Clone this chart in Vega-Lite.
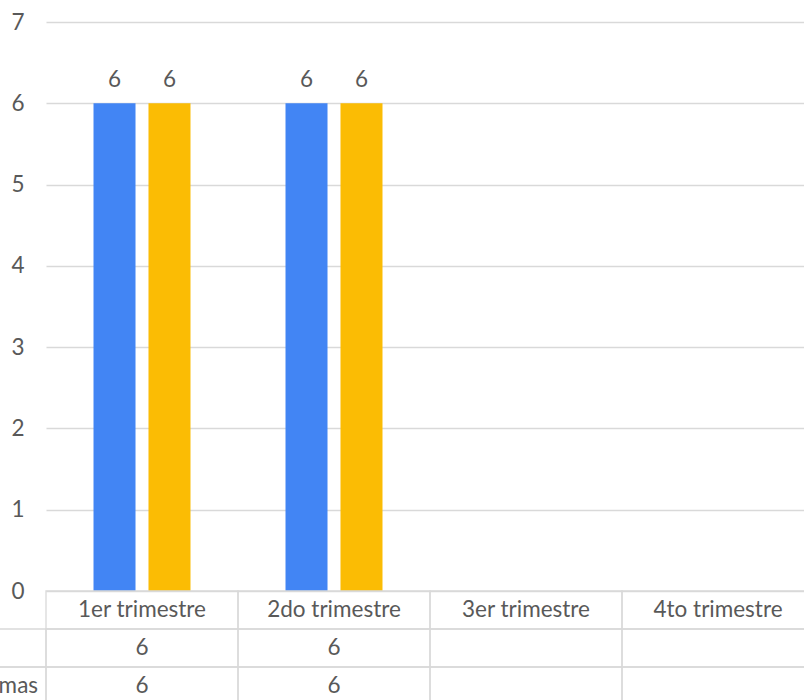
{
  "$schema": "https://vega.github.io/schema/vega-lite/v6.json",
  "autosize": {"type": "none"},
  "width": 758,
  "height": 678,
  "padding": {"left": 46, "top": 22, "right": 0, "bottom": 0},
  "background": "white",
  "config": {"view": {"stroke": null}, "text": {"font": "Lato", "fontSize": 22.5, "color": "#595959"}},
  "datasets": {
    "valores": [
      {"trimestre": "1er trimestre", "serie": "Total", "valor": 6},
      {"trimestre": "1er trimestre", "serie": "Programas", "valor": 6},
      {"trimestre": "2do trimestre", "serie": "Total", "valor": 6},
      {"trimestre": "2do trimestre", "serie": "Programas", "valor": 6}
    ],
    "celdas": [
      {"col": "1er trimestre", "fila": "encabezado"},
      {"col": "2do trimestre", "fila": "encabezado"},
      {"col": "3er trimestre", "fila": "encabezado"},
      {"col": "4to trimestre", "fila": "encabezado"},
      {"col": "serie", "fila": "Total"},
      {"col": "1er trimestre", "fila": "Total"},
      {"col": "2do trimestre", "fila": "Total"},
      {"col": "3er trimestre", "fila": "Total"},
      {"col": "4to trimestre", "fila": "Total"},
      {"col": "serie", "fila": "Programas"},
      {"col": "1er trimestre", "fila": "Programas"},
      {"col": "2do trimestre", "fila": "Programas"},
      {"col": "3er trimestre", "fila": "Programas"},
      {"col": "4to trimestre", "fila": "Programas"}
    ]
  },
  "layer": [
    {
      "data": {"name": "valores"},
      "encoding": {
        "x": {"field": "trimestre", "type": "nominal", "axis": null,
          "scale": {"domain": ["1er trimestre", "2do trimestre", "3er trimestre", "4to trimestre"], "range": [0, 768], "paddingInner": 0, "paddingOuter": 0}},
        "xOffset": {"field": "serie", "type": "nominal",
          "scale": {"domain": ["Total", "Programas"], "paddingInner": 0.236, "paddingOuter": 0.864}},
        "y": {"field": "valor", "type": "quantitative",
          "scale": {"domain": [0, 7], "range": [569, 0], "nice": false, "zero": true},
          "axis": {"values": [0, 1, 2, 3, 4, 5, 6, 7], "title": null, "grid": true, "gridColor": "#d9d9d9", "gridWidth": 1.3,
            "domain": false, "ticks": false, "tickSize": 0, "labelPadding": 22, "labelFont": "Lato", "labelFontSize": 22.5, "labelColor": "#595959"}}
      },
      "layer": [
        {
          "mark": {"type": "bar"},
          "encoding": {
            "color": {"field": "serie", "type": "nominal", "legend": null,
              "scale": {"domain": ["Total", "Programas"], "range": ["#4285F4", "#FBBC04"]}}
          }
        },
        {
          "mark": {"type": "text", "baseline": "alphabetic", "dy": -16},
          "encoding": {"text": {"field": "valor", "type": "quantitative"}}
        }
      ]
    },
    {
      "encoding": {
        "x": {"field": "col", "type": "nominal", "axis": null,
          "scale": {"domain": ["serie", "1er trimestre", "2do trimestre", "3er trimestre", "4to trimestre"], "range": [-192, 768], "paddingInner": 0, "paddingOuter": 0}},
        "y": {"field": "fila", "type": "nominal", "axis": null,
          "scale": {"domain": ["encabezado", "Total", "Programas"], "range": [569, 683], "paddingInner": 0, "paddingOuter": 0}}
      },
      "layer": [
        {
          "data": {"name": "celdas"},
          "mark": {"type": "rect", "fill": "transparent", "stroke": "#d9d9d9", "strokeWidth": 1.3}
        },
        {
          "data": {"name": "celdas"},
          "transform": [{"filter": "datum.fila === 'encabezado'"}],
          "mark": {"type": "text", "baseline": "middle"},
          "encoding": {"text": {"field": "col", "type": "nominal"}}
        },
        {
          "data": {"name": "celdas"},
          "transform": [{"filter": "datum.col === 'serie'"}],
          "mark": {"type": "text", "baseline": "middle", "align": "left", "dx": 80},
          "encoding": {
            "x": {"field": "col", "type": "nominal", "bandPosition": 0, "axis": null,
              "scale": {"domain": ["serie", "1er trimestre", "2do trimestre", "3er trimestre", "4to trimestre"], "range": [-192, 768], "paddingInner": 0, "paddingOuter": 0}},
            "text": {"field": "fila", "type": "nominal"}
          }
        },
        {
          "data": {"name": "valores"},
          "mark": {"type": "text", "baseline": "middle"},
          "encoding": {
            "x": {"field": "trimestre", "type": "nominal", "axis": null},
            "y": {"field": "serie", "type": "nominal", "axis": null},
            "text": {"field": "valor", "type": "quantitative"}
          }
        }
      ]
    }
  ],
  "resolve": {"scale": {"x": "independent", "y": "independent"}, "axis": {"x": "independent", "y": "independent"}}
}
